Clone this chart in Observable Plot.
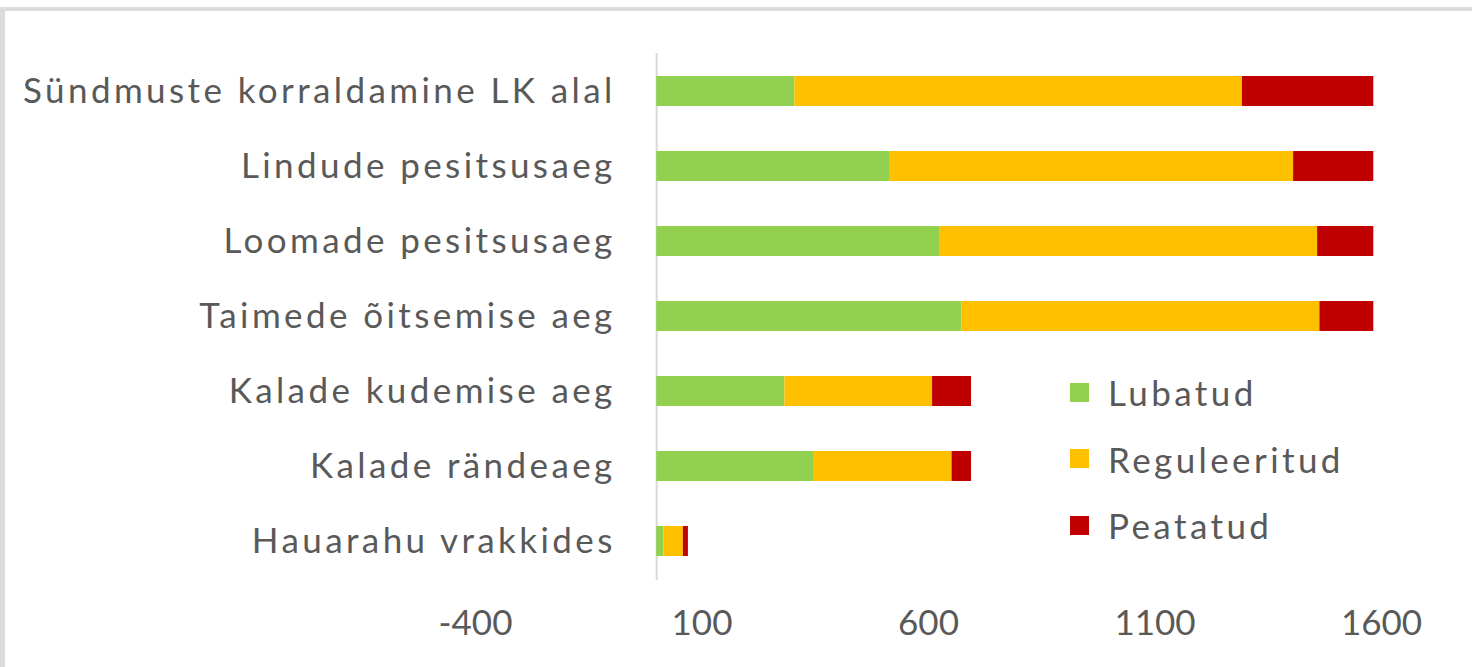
<!DOCTYPE html>
<html>
<head>
<meta charset="utf-8">
<script src="https://cdn.jsdelivr.net/npm/d3@7"></script>
<script src="https://cdn.jsdelivr.net/npm/@observablehq/plot@0.6"></script>
<style>
  html, body { margin: 0; padding: 0; background: #fff; }
  #wrap { position: relative; width: 1472px; height: 667px; overflow: hidden; font-family: Lato, sans-serif; }
  #frame { position: absolute; left: 0; top: 7px; right: 0; bottom: 0; border-top: 4px solid #dcdcdc; border-left: 5px solid #dcdcdc; pointer-events: none; }
  #legend { position: absolute; left: 1070px; top: 370px; color: #595959; font-size: 35px; letter-spacing: 3.4px; }
  #legend .row { display: flex; align-items: center; height: 44px; margin-bottom: 22.5px; }
  #legend .sw { width: 19px; height: 19px; margin-right: 19px; }
  .catlabels text { letter-spacing: 3.4px; }
</style>
</head>
<body>
<div id="wrap">
  <div id="chart"></div>
  <div id="legend"></div>
  <div id="frame"></div>
</div>
<script>
const categories = [
  "Sündmuste korraldamine LK alal",
  "Lindude pesitsusaeg",
  "Loomade pesitsusaeg",
  "Taimede õitsemise aeg",
  "Kalade kudemise aeg",
  "Kalade rändeaeg",
  "Hauarahu vrakkides"
];
const series = ["Lubatud", "Reguleeritud", "Peatatud"];
const lubatud = [305, 514, 626, 674, 283, 348, 16];
const reguleeritud = [988, 892, 833, 790, 326, 304, 43];
const peatatud = [290, 177, 124, 119, 86, 43, 11];
const seriesColors = ["#92D050", "#FFC000", "#C00000"];
const xTicks = [-400, 100, 600, 1100, 1600];

const valuesBySeries = [lubatud, reguleeritud, peatatud];
const data = [];
series.forEach((s, si) => {
  categories.forEach((c, ci) => {
    data.push({cat: c, series: s, value: valuesBySeries[si][ci]});
  });
});

const chart = Plot.plot({
  width: 1472,
  height: 667,
  marginLeft: 475,
  marginRight: 91,
  marginTop: 53,
  marginBottom: 87,
  style: {fontFamily: "Lato, sans-serif", color: "#595959", background: "transparent"},
  x: {domain: [-400, 1600], label: null},
  y: {domain: categories, paddingInner: 0.595, paddingOuter: 0.2975, axis: null},
  color: {domain: series, range: seriesColors},
  marks: [
    Plot.ruleX([0], {stroke: "#d9d9d9", strokeWidth: 2}),
    Plot.barX(data, Plot.stackX({y: "cat", x: "value", fill: "series", order: null})),
    Plot.text(categories, {y: d => d, x: 0, text: d => d, textAnchor: "end", dx: -41, fontSize: 35, fill: "#595959", className: "catlabels"}),
    Plot.axisX({ticks: xTicks, tickSize: 0, tickPadding: 30, label: null, fontSize: 35, fill: "#595959", tickFormat: d => String(d)})
  ]
});
document.getElementById("chart").appendChild(chart);

const legend = document.getElementById("legend");
series.forEach((s, i) => {
  const row = document.createElement("div");
  row.className = "row";
  const sw = document.createElement("div");
  sw.className = "sw";
  sw.style.background = seriesColors[i];
  const t = document.createElement("span");
  t.textContent = s;
  row.appendChild(sw);
  row.appendChild(t);
  legend.appendChild(row);
});
</script>
</body>
</html>
